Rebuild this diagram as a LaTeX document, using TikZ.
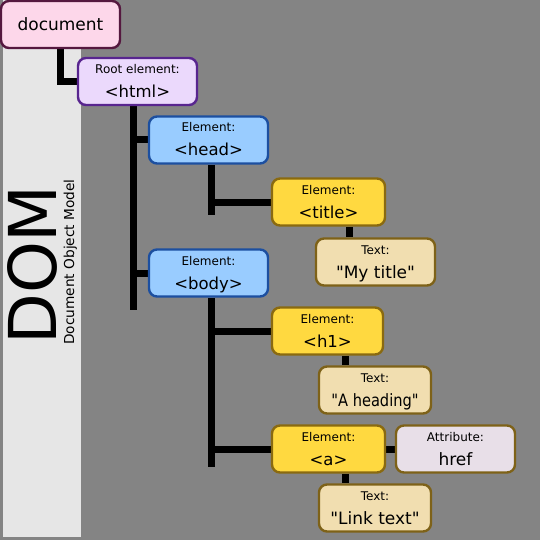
\documentclass[tikz,border=0pt]{standalone}
\usepackage{fontspec}
\setmainfont{DejaVu Sans}
\newfontfamily\plainqf{DejaVu Sans}
\usetikzlibrary{backgrounds}
\definecolor{bggray}{HTML}{848484}
\definecolor{strip}{HTML}{E6E6E6}
\definecolor{docfill}{HTML}{FDD7EA}
\definecolor{docdraw}{HTML}{55183F}
\definecolor{htmlfill}{HTML}{EBD9FC}
\definecolor{htmldraw}{HTML}{58258F}
\definecolor{bluefill}{HTML}{99CCFF}
\definecolor{bluedraw}{HTML}{1C4FA0}
\definecolor{elfill}{HTML}{FFD940}
\definecolor{eldraw}{HTML}{8A6A10}
\definecolor{txtfill}{HTML}{F1DEB0}
\definecolor{txtdraw}{HTML}{7E6218}
\definecolor{attfill}{HTML}{E8DFE8}
\newcommand\smalllbl[1]{{\fontsize{12}{14}\selectfont #1}}
\newcommand\twoline[2]{\rule{0pt}{10pt}\smash{\smalllbl{#1}}\\\smash{#2}\rule[-2pt]{0pt}{2pt}}
\tikzset{
  box/.style={draw, rounded corners=8pt, line width=2.4pt, inner sep=0pt, align=center,
    minimum height=47pt, font=\fontsize{16.5}{24}\selectfont},
  docbox/.style={box, fill=docfill, draw=docdraw, font=\fontsize{17}{24}\selectfont},
  htmlbox/.style={box, fill=htmlfill, draw=htmldraw},
  bluebox/.style={box, fill=bluefill, draw=bluedraw},
  elbox/.style={box, fill=elfill, draw=eldraw},
  txtbox/.style={box, fill=txtfill, draw=txtdraw, font=\fontsize{17}{24}\selectfont},
  attbox/.style={box, fill=attfill, draw=txtdraw, font=\fontsize{17}{24}\selectfont},
  conn/.style={line width=7pt, black},
}
\begin{document}
\begin{tikzpicture}[x=1pt,y=-1pt]
\useasboundingbox (0,0) rectangle (540,540);
% nodes
\node[docbox, minimum width=119pt] (doc) at (60.5,24.5) {document};
\node[htmlbox, minimum width=119pt] (html) at (137.5,81.5) {\twoline{Root element:}{<html>}};
\node[bluebox, minimum width=119pt] (head) at (208.5,140) {\twoline{Element:}{<head>}};
\node[bluebox, minimum width=119pt] (body) at (208.5,273) {\twoline{Element:}{<body>}};
\node[elbox, minimum width=113pt] (title) at (328.5,202) {\twoline{Element:}{<title>}};
\node[txtbox, minimum width=119pt] (mytitle) at (375.5,262) {\twoline{Text:}{{\plainqf "My title"}}};
\node[elbox, minimum width=111pt] (h1) at (327.5,331) {\twoline{Element:}{<h1>}};
\node[txtbox, minimum width=112pt] (heading) at (375,390) {\twoline{Text:}{\scalebox{0.86}[1]{\plainqf "A heading"}}};
\node[elbox, minimum width=113pt] (a) at (328.5,449) {\twoline{Element:}{<a>}};
\node[attbox, minimum width=119pt] (href) at (455.5,449) {\twoline{Attribute:}{href}};
\node[txtbox, minimum width=112pt] (link) at (375,508) {\twoline{Text:}{{\plainqf "Link text"}}};
% side title
\node[rotate=90, inner sep=0pt, anchor=south west, font=\fontsize{66}{70}\selectfont] (dom) at (58,345) {DOM};
\node[rotate=90, inner sep=0pt, anchor=base west, font=\fontsize{13.7}{16}\selectfont] (dommodel) at (74,345) {Document Object Model};
\coordinate (htmlEnd) at (133.5,310);
\coordinate (headEnd) at (211,215);
\coordinate (bodyEnd) at (211,467);
\begin{scope}[on background layer]
\fill[bggray] (0,0) rectangle (540,540);
\fill[strip] (3,0) rectangle (81,537);
\draw[conn] (doc.south) |- (html.west);
\draw[conn] (html.south -| htmlEnd) -- (htmlEnd);
\draw[conn] (head.west) -- (head.west -| htmlEnd);
\draw[conn] (body.west) -- (body.west -| htmlEnd);
\draw[conn] (head.south -| headEnd) -- (headEnd);
\draw[conn] (title.west) -- (title.west -| headEnd);
\draw[conn] (body.south -| bodyEnd) -- (bodyEnd);
\draw[conn] (h1.west) -- (h1.west -| bodyEnd);
\draw[conn] (a.west) -- (a.west -| bodyEnd);
\draw[conn] ([xshift=20.5pt]title.south) -- ([xshift=20.5pt]title.south |- mytitle.north);
\draw[conn] ([xshift=18pt]h1.south) -- ([xshift=18pt]h1.south |- heading.north);
\draw[conn] ([xshift=17pt]a.south) -- ([xshift=17pt]a.south |- link.north);
\draw[conn] (a.east) -- (href.west);
\end{scope}
\end{tikzpicture}
\end{document}
